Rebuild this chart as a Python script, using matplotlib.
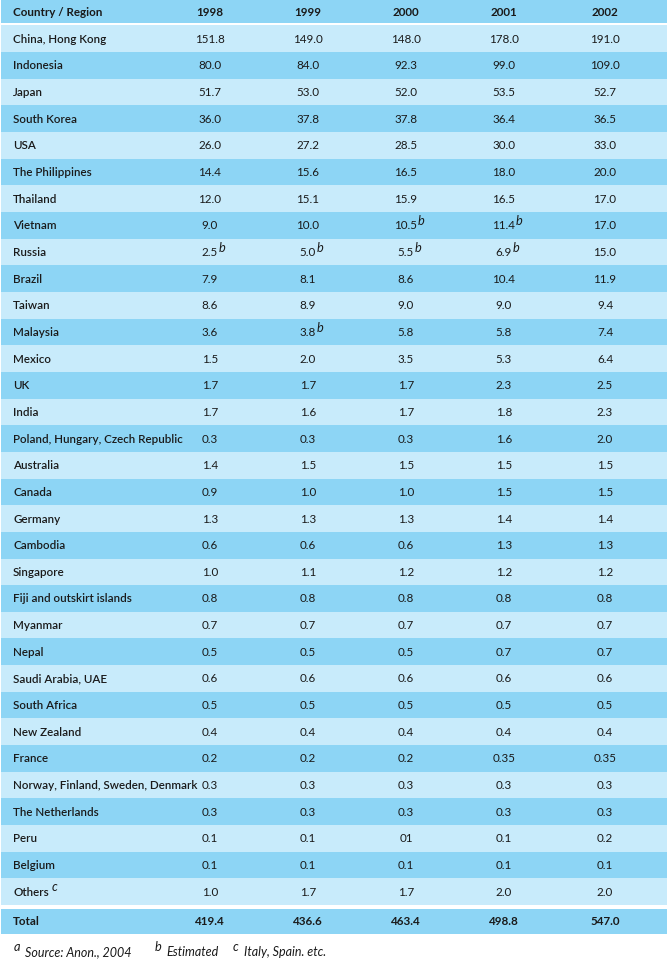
import matplotlib.pyplot as plt

years = ["1998", "1999", "2000", "2001", "2002"]

countries = ["China, Hong Kong", "Indonesia", "Japan", "South Korea", "USA",
             "The Philippines", "Thailand", "Vietnam", "Russia", "Brazil",
             "Taiwan", "Malaysia", "Mexico", "UK", "India",
             "Poland, Hungary, Czech Republic", "Australia", "Canada", "Germany",
             "Cambodia", "Singapore", "Fiji and outskirt islands", "Myanmar",
             "Nepal", "Saudi Arabia, UAE", "South Africa", "New Zealand",
             "France", "Norway, Finland, Sweden, Denmark", "The Netherlands",
             "Peru", "Belgium", "Others"]

v1998 = ["151.8", "80.0", "51.7", "36.0", "26.0", "14.4", "12.0", "9.0", "2.5", "7.9",
         "8.6", "3.6", "1.5", "1.7", "1.7", "0.3", "1.4", "0.9", "1.3", "0.6", "1.0",
         "0.8", "0.7", "0.5", "0.6", "0.5", "0.4", "0.2", "0.3", "0.3", "0.1", "0.1", "1.0"]
v1999 = ["149.0", "84.0", "53.0", "37.8", "27.2", "15.6", "15.1", "10.0", "5.0", "8.1",
         "8.9", "3.8", "2.0", "1.7", "1.6", "0.3", "1.5", "1.0", "1.3", "0.6", "1.1",
         "0.8", "0.7", "0.5", "0.6", "0.5", "0.4", "0.2", "0.3", "0.3", "0.1", "0.1", "1.7"]
v2000 = ["148.0", "92.3", "52.0", "37.8", "28.5", "16.5", "15.9", "10.5", "5.5", "8.6",
         "9.0", "5.8", "3.5", "1.7", "1.7", "0.3", "1.5", "1.0", "1.3", "0.6", "1.2",
         "0.8", "0.7", "0.5", "0.6", "0.5", "0.4", "0.2", "0.3", "0.3", "01", "0.1", "1.7"]
v2001 = ["178.0", "99.0", "53.5", "36.4", "30.0", "18.0", "16.5", "11.4", "6.9", "10.4",
         "9.0", "5.8", "5.3", "2.3", "1.8", "1.6", "1.5", "1.5", "1.4", "1.3", "1.2",
         "0.8", "0.7", "0.7", "0.6", "0.5", "0.4", "0.35", "0.3", "0.3", "0.1", "0.1", "2.0"]
v2002 = ["191.0", "109.0", "52.7", "36.5", "33.0", "20.0", "17.0", "17.0", "15.0", "11.9",
         "9.4", "7.4", "6.4", "2.5", "2.3", "2.0", "1.5", "1.5", "1.4", "1.3", "1.2",
         "0.8", "0.7", "0.7", "0.6", "0.5", "0.4", "0.35", "0.3", "0.3", "0.2", "0.1", "2.0"]
totals = ["419.4", "436.6", "463.4", "498.8", "547.0"]

# cells marked "b" (estimated)
estimated = [("Vietnam", "2000"), ("Vietnam", "2001"),
             ("Russia", "1998"), ("Russia", "1999"), ("Russia", "2000"), ("Russia", "2001"),
             ("Malaysia", "1999")]

columns = [v1998, v1999, v2000, v2001, v2002]

dark = "#8dd5f5"
light = "#c8ebfb"
ink = "#1a1a1a"
font = "Lato"

fig = plt.figure(figsize=(6.69, 9.67), dpi=100)
ax = fig.add_axes([0, 0, 1, 1])
ax.set_xlim(0, 669)
ax.set_ylim(967, 0)
ax.axis("off")

x_name = 13
x_cols = [210, 308, 406, 504, 605]
left, right = 1, 667
fs = 8.4
sup = 9.2

# header
ax.fill_between([left, right], 0, 23.3, color=dark, lw=0)
ax.text(x_name, 12, "Country / Region", ha="left", va="center", fontsize=fs,
        fontweight="bold", family=font, color=ink)
for x, y in zip(x_cols, years):
    ax.text(x, 12, y, ha="center", va="center", fontsize=fs, fontweight="bold",
            family=font, color=ink)

top = 25.3
h = 26.66
for i, name in enumerate(countries):
    y0 = top + i * h
    ax.fill_between([left, right], y0, y0 + h, color=light if i % 2 == 0 else dark, lw=0)
    yc = y0 + h / 2 + 0.5
    t = ax.text(x_name, yc, name, ha="left", va="center", fontsize=fs,
                fontweight="semibold", family=font, color=ink)
    if name == "Others":
        ax.annotate("c", xy=(1, 0.45), xycoords=t, xytext=(2, 0), textcoords="offset points",
                    ha="left", va="bottom", fontsize=sup, style="italic", family=font,
                    color=ink)
    for x, yr, col in zip(x_cols, years, columns):
        t = ax.text(x, yc, col[i], ha="center", va="center", fontsize=fs,
                    family=font, color=ink)
        if (name, yr) in estimated:
            ax.annotate("b", xy=(1, 0.35), xycoords=t, xytext=(0.3, 0),
                        textcoords="offset points", ha="left", va="bottom",
                        fontsize=sup, style="italic", family=font, color=ink)

# total row
ax.fill_between([left, right], 909, 934, color=dark, lw=0)
ax.text(x_name, 921.5, "Total", ha="left", va="center", fontsize=fs,
        fontweight="bold", family=font, color=ink)
for x, v in zip(x_cols, totals):
    ax.text(x, 921.5, v, ha="center", va="center", fontsize=fs, fontweight="bold",
            family=font, color=ink)

# footnotes
notes = [(14, "a", "Source: Anon., 2004"), (155, "b", "Estimated"), (233, "c", "Italy, Spain. etc.")]
for x, mark, txt in notes:
    ax.text(x, 947, mark, ha="left", va="center", fontsize=sup, style="italic",
            family=font, color=ink)
    ax.text(x + 11, 952, txt, ha="left", va="center", fontsize=9, style="italic",
            family=font, color=ink)

fig.savefig("out.png", dpi=100)
